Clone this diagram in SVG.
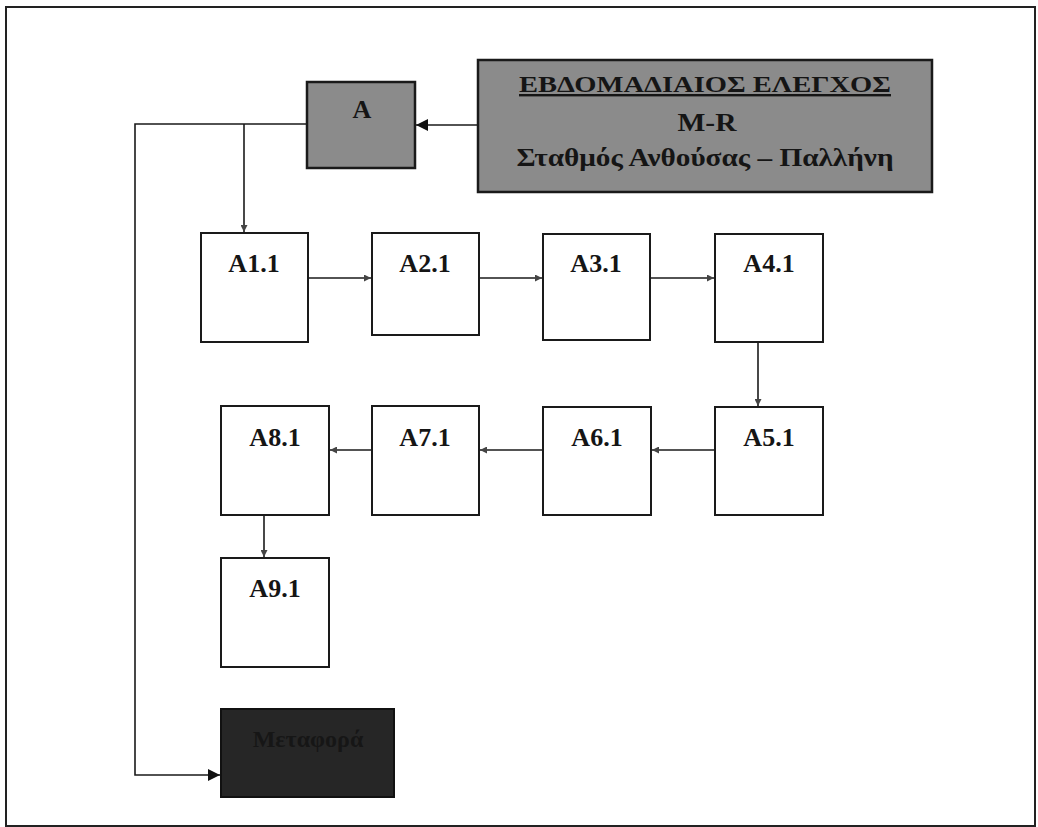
<svg xmlns="http://www.w3.org/2000/svg" width="1038" height="827" viewBox="0 0 1038 827">
<style>
.box{fill:#ffffff;stroke:#1a1a1a;stroke-width:2}
.grey{fill:#8b8b8b;stroke:#1a1a1a;stroke-width:2.5}
.dark{fill:#262626;stroke:#111;stroke-width:2}
.lbl{font-family:"Liberation Serif","Times New Roman",serif;font-weight:bold;font-size:26px;fill:#151515;text-anchor:middle}
.con{fill:none;stroke:#1a1a1a;stroke-width:1.6}
</style>
<defs>
<marker id="ag" viewBox="0 0 10 10" refX="10" refY="5" markerWidth="7" markerHeight="7" markerUnits="userSpaceOnUse" orient="auto"><path d="M0,0 L10,5 L0,10 z" fill="#444"/></marker>
<marker id="ab" viewBox="0 0 10 10" refX="10" refY="5" markerWidth="12" markerHeight="12" markerUnits="userSpaceOnUse" orient="auto"><path d="M0,0 L10,5 L0,10 z" fill="#111"/></marker>
</defs>
<rect x="6" y="7" width="1029" height="819" fill="#fff" stroke="#222" stroke-width="2"/>
<g id="connectors">
<path class="con" d="M479,125 L416,125" marker-end="url(#ab)"/>
<path class="con" d="M307,124 L135,124 L135,775 L220,775" marker-end="url(#ab)"/>
<path class="con" d="M244,124 L244,232" marker-end="url(#ag)"/>
<path class="con" d="M308,278 L371,278" marker-end="url(#ag)"/>
<path class="con" d="M479,278 L542,278" marker-end="url(#ag)"/>
<path class="con" d="M650,278 L714,278" marker-end="url(#ag)"/>
<path class="con" d="M758,342 L758,406" marker-end="url(#ag)"/>
<path class="con" d="M715,450 L652,450" marker-end="url(#ag)"/>
<path class="con" d="M543,450 L480,450" marker-end="url(#ag)"/>
<path class="con" d="M372,450 L330,450" marker-end="url(#ag)"/>
<path class="con" d="M264,515 L264,557" marker-end="url(#ag)"/>
</g>
<g id="header">
<rect class="grey" x="478" y="60" width="454" height="132"/>
<text class="lbl" x="705" y="92" style="font-size:24px" textLength="372" lengthAdjust="spacingAndGlyphs" text-decoration="underline">ΕΒΔΟΜΑΔΙΑΙΟΣ ΕΛΕΓΧΟΣ</text>
<text class="lbl" x="707" y="131" style="font-size:25px" textLength="59" lengthAdjust="spacingAndGlyphs">M-R</text>
<text class="lbl" x="705" y="166" style="font-size:26px" textLength="377" lengthAdjust="spacingAndGlyphs">Σταθμός Ανθούσας – Παλλήνη</text>
</g>
<g id="nodeA">
<rect class="grey" x="307" y="82" width="108" height="86"/>
<text class="lbl" x="362" y="118">A</text>
</g>
<g id="A1.1"><rect class="box" x="201" y="233" width="107" height="109"/><text class="lbl" x="254" y="272">A1.1</text></g>
<g id="A2.1"><rect class="box" x="372" y="233" width="107" height="102"/><text class="lbl" x="425" y="272">A2.1</text></g>
<g id="A3.1"><rect class="box" x="543" y="234" width="107" height="106"/><text class="lbl" x="596" y="272">A3.1</text></g>
<g id="A4.1"><rect class="box" x="715" y="234" width="108" height="108"/><text class="lbl" x="769" y="272">A4.1</text></g>
<g id="A5.1"><rect class="box" x="715" y="407" width="108" height="108"/><text class="lbl" x="769" y="446">A5.1</text></g>
<g id="A6.1"><rect class="box" x="543" y="407" width="108" height="108"/><text class="lbl" x="597" y="446">A6.1</text></g>
<g id="A7.1"><rect class="box" x="372" y="406" width="107" height="109"/><text class="lbl" x="425" y="446">A7.1</text></g>
<g id="A8.1"><rect class="box" x="221" y="406" width="108" height="109"/><text class="lbl" x="275" y="446">A8.1</text></g>
<g id="A9.1"><rect class="box" x="221" y="558" width="108" height="109"/><text class="lbl" x="275" y="597">A9.1</text></g>
<g id="metafora">
<rect class="dark" x="221" y="709" width="173" height="88"/>
<text class="lbl" x="308" y="747" style="font-size:24px;fill:#161616">Μεταφορά</text>
</g>
</svg>
